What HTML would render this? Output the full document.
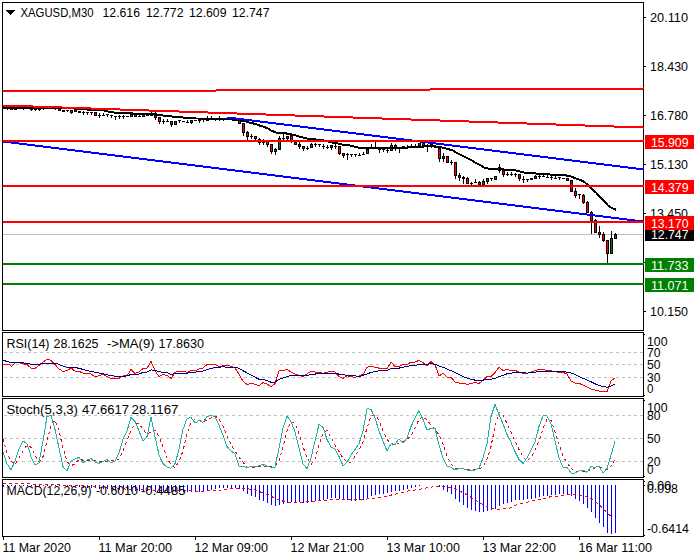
<!DOCTYPE html>
<html><head><meta charset="utf-8"><title>XAGUSD,M30</title>
<style>
html,body{margin:0;padding:0;background:#fff;}
body{width:700px;height:560px;overflow:hidden;}
svg{display:block;font-family:"Liberation Sans",sans-serif;}
rect{shape-rendering:crispEdges;}
</style></head><body>
<svg width="700" height="560" viewBox="0 0 700 560">
<defs><clipPath id="cm"><rect x="3" y="3" width="641" height="327"/></clipPath></defs>
<rect x="0" y="0" width="700" height="560" fill="#fff"/>
<rect x="2" y="2" width="642" height="1" fill="#000"/>
<rect x="2" y="330" width="642" height="1" fill="#000"/>
<rect x="2" y="2" width="1" height="329" fill="#000"/>
<rect x="643" y="2" width="1" height="329" fill="#000"/>
<rect x="2" y="332" width="642" height="1" fill="#000"/>
<rect x="2" y="396" width="642" height="1" fill="#000"/>
<rect x="2" y="332" width="1" height="65" fill="#000"/>
<rect x="643" y="332" width="1" height="65" fill="#000"/>
<rect x="2" y="398" width="642" height="1" fill="#000"/>
<rect x="2" y="477" width="642" height="1" fill="#000"/>
<rect x="2" y="398" width="1" height="80" fill="#000"/>
<rect x="643" y="398" width="1" height="80" fill="#000"/>
<rect x="2" y="479" width="642" height="1" fill="#000"/>
<rect x="2" y="536" width="642" height="1" fill="#000"/>
<rect x="2" y="479" width="1" height="58" fill="#000"/>
<rect x="643" y="479" width="1" height="58" fill="#000"/>
<g clip-path="url(#cm)">
<rect x="3" y="234" width="640" height="1" fill="#c0c0c0"/>
<rect x="3" y="108" width="1" height="1" fill="#000"/>
<rect x="2" y="108" width="3" height="1" fill="#000"/>
<rect x="7" y="108" width="1" height="2" fill="#000"/>
<rect x="6" y="108" width="3" height="1" fill="#000"/>
<rect x="11" y="108" width="1" height="2" fill="#000"/>
<rect x="10" y="108" width="3" height="2" fill="#000"/>
<rect x="15" y="108" width="1" height="2" fill="#000"/>
<rect x="14" y="108" width="3" height="2" fill="#000"/>
<rect x="19" y="108" width="1" height="1" fill="#000"/>
<rect x="18" y="108" width="3" height="1" fill="#000"/>
<rect x="23" y="108" width="1" height="2" fill="#000"/>
<rect x="22" y="108" width="3" height="1" fill="#000"/>
<rect x="27" y="108" width="1" height="1" fill="#000"/>
<rect x="26" y="108" width="3" height="1" fill="#000"/>
<rect x="31" y="108" width="1" height="3" fill="#000"/>
<rect x="30" y="108" width="3" height="2" fill="#000"/>
<rect x="35" y="108" width="1" height="3" fill="#000"/>
<rect x="34" y="108" width="3" height="2" fill="#000"/>
<rect x="39" y="108" width="1" height="3" fill="#000"/>
<rect x="38" y="108" width="3" height="2" fill="#000"/>
<rect x="43" y="108" width="1" height="2" fill="#000"/>
<rect x="42" y="108" width="3" height="1" fill="#000"/>
<rect x="47" y="108" width="1" height="1" fill="#000"/>
<rect x="46" y="108" width="3" height="1" fill="#000"/>
<rect x="51" y="108" width="1" height="1" fill="#000"/>
<rect x="50" y="108" width="3" height="1" fill="#000"/>
<rect x="55" y="108" width="1" height="2" fill="#000"/>
<rect x="54" y="108" width="3" height="1" fill="#000"/>
<rect x="59" y="108" width="1" height="3" fill="#000"/>
<rect x="58" y="108" width="3" height="3" fill="#000"/>
<rect x="59" y="109" width="1" height="1" fill="#ff0000"/>
<rect x="63" y="110" width="1" height="2" fill="#000"/>
<rect x="62" y="110" width="3" height="2" fill="#000"/>
<rect x="67" y="110" width="1" height="2" fill="#000"/>
<rect x="66" y="110" width="3" height="1" fill="#000"/>
<rect x="71" y="110" width="1" height="4" fill="#000"/>
<rect x="70" y="110" width="3" height="3" fill="#000"/>
<rect x="71" y="111" width="1" height="1" fill="#008000"/>
<rect x="75" y="109" width="1" height="3" fill="#000"/>
<rect x="74" y="109" width="3" height="3" fill="#000"/>
<rect x="75" y="110" width="1" height="1" fill="#ff0000"/>
<rect x="79" y="111" width="1" height="2" fill="#000"/>
<rect x="78" y="111" width="3" height="2" fill="#000"/>
<rect x="83" y="111" width="1" height="4" fill="#000"/>
<rect x="82" y="112" width="3" height="1" fill="#000"/>
<rect x="87" y="112" width="1" height="3" fill="#000"/>
<rect x="86" y="112" width="3" height="1" fill="#000"/>
<rect x="91" y="112" width="1" height="3" fill="#000"/>
<rect x="90" y="112" width="3" height="1" fill="#000"/>
<rect x="95" y="112" width="1" height="4" fill="#000"/>
<rect x="94" y="112" width="3" height="4" fill="#000"/>
<rect x="95" y="113" width="1" height="2" fill="#ff0000"/>
<rect x="99" y="113" width="1" height="5" fill="#000"/>
<rect x="98" y="115" width="3" height="1" fill="#000"/>
<rect x="103" y="113" width="1" height="3" fill="#000"/>
<rect x="102" y="115" width="3" height="1" fill="#000"/>
<rect x="107" y="114" width="1" height="3" fill="#000"/>
<rect x="106" y="114" width="3" height="1" fill="#000"/>
<rect x="111" y="115" width="1" height="3" fill="#000"/>
<rect x="110" y="115" width="3" height="1" fill="#000"/>
<rect x="115" y="116" width="1" height="4" fill="#000"/>
<rect x="114" y="116" width="3" height="1" fill="#000"/>
<rect x="119" y="115" width="1" height="4" fill="#000"/>
<rect x="118" y="116" width="3" height="1" fill="#000"/>
<rect x="123" y="115" width="1" height="4" fill="#000"/>
<rect x="122" y="116" width="3" height="1" fill="#000"/>
<rect x="127" y="116" width="1" height="1" fill="#000"/>
<rect x="126" y="116" width="3" height="1" fill="#000"/>
<rect x="131" y="114" width="1" height="3" fill="#000"/>
<rect x="130" y="114" width="3" height="3" fill="#000"/>
<rect x="131" y="115" width="1" height="1" fill="#008000"/>
<rect x="135" y="114" width="1" height="3" fill="#000"/>
<rect x="134" y="114" width="3" height="3" fill="#000"/>
<rect x="135" y="115" width="1" height="1" fill="#ff0000"/>
<rect x="139" y="115" width="1" height="2" fill="#000"/>
<rect x="138" y="116" width="3" height="1" fill="#000"/>
<rect x="143" y="114" width="1" height="3" fill="#000"/>
<rect x="142" y="114" width="3" height="3" fill="#000"/>
<rect x="143" y="115" width="1" height="1" fill="#008000"/>
<rect x="147" y="115" width="1" height="1" fill="#000"/>
<rect x="146" y="115" width="3" height="1" fill="#000"/>
<rect x="151" y="112" width="1" height="4" fill="#000"/>
<rect x="150" y="115" width="3" height="1" fill="#000"/>
<rect x="155" y="112" width="1" height="8" fill="#000"/>
<rect x="154" y="115" width="3" height="3" fill="#000"/>
<rect x="155" y="116" width="1" height="1" fill="#ff0000"/>
<rect x="159" y="117" width="1" height="7" fill="#000"/>
<rect x="158" y="117" width="3" height="5" fill="#000"/>
<rect x="159" y="118" width="1" height="3" fill="#ff0000"/>
<rect x="163" y="119" width="1" height="5" fill="#000"/>
<rect x="162" y="121" width="3" height="1" fill="#000"/>
<rect x="167" y="119" width="1" height="3" fill="#000"/>
<rect x="166" y="121" width="3" height="1" fill="#000"/>
<rect x="171" y="121" width="1" height="6" fill="#000"/>
<rect x="170" y="121" width="3" height="4" fill="#000"/>
<rect x="171" y="122" width="1" height="2" fill="#ff0000"/>
<rect x="175" y="121" width="1" height="4" fill="#000"/>
<rect x="174" y="121" width="3" height="4" fill="#000"/>
<rect x="175" y="122" width="1" height="2" fill="#008000"/>
<rect x="179" y="120" width="1" height="3" fill="#000"/>
<rect x="178" y="120" width="3" height="1" fill="#000"/>
<rect x="183" y="121" width="1" height="1" fill="#000"/>
<rect x="182" y="121" width="3" height="1" fill="#000"/>
<rect x="187" y="120" width="1" height="3" fill="#000"/>
<rect x="186" y="122" width="3" height="1" fill="#000"/>
<rect x="191" y="120" width="1" height="4" fill="#000"/>
<rect x="190" y="120" width="3" height="3" fill="#000"/>
<rect x="191" y="121" width="1" height="1" fill="#008000"/>
<rect x="195" y="120" width="1" height="1" fill="#000"/>
<rect x="194" y="120" width="3" height="1" fill="#000"/>
<rect x="199" y="120" width="1" height="3" fill="#000"/>
<rect x="198" y="120" width="3" height="1" fill="#000"/>
<rect x="203" y="119" width="1" height="3" fill="#000"/>
<rect x="202" y="119" width="3" height="1" fill="#000"/>
<rect x="207" y="116" width="1" height="5" fill="#000"/>
<rect x="206" y="118" width="3" height="3" fill="#000"/>
<rect x="211" y="116" width="1" height="4" fill="#000"/>
<rect x="210" y="119" width="3" height="1" fill="#000"/>
<rect x="215" y="118" width="1" height="3" fill="#000"/>
<rect x="214" y="119" width="3" height="1" fill="#000"/>
<rect x="219" y="116" width="1" height="5" fill="#000"/>
<rect x="218" y="119" width="3" height="1" fill="#000"/>
<rect x="223" y="119" width="1" height="2" fill="#000"/>
<rect x="222" y="119" width="3" height="1" fill="#000"/>
<rect x="227" y="119" width="1" height="1" fill="#000"/>
<rect x="226" y="119" width="3" height="1" fill="#000"/>
<rect x="231" y="119" width="1" height="1" fill="#000"/>
<rect x="230" y="119" width="3" height="1" fill="#000"/>
<rect x="235" y="119" width="1" height="1" fill="#000"/>
<rect x="234" y="119" width="3" height="1" fill="#000"/>
<rect x="239" y="120" width="1" height="4" fill="#000"/>
<rect x="238" y="120" width="3" height="4" fill="#000"/>
<rect x="239" y="121" width="1" height="2" fill="#ff0000"/>
<rect x="243" y="123" width="1" height="13" fill="#000"/>
<rect x="242" y="123" width="3" height="10" fill="#000"/>
<rect x="243" y="124" width="1" height="8" fill="#ff0000"/>
<rect x="247" y="131" width="1" height="10" fill="#000"/>
<rect x="246" y="132" width="3" height="5" fill="#000"/>
<rect x="247" y="133" width="1" height="3" fill="#ff0000"/>
<rect x="251" y="134" width="1" height="5" fill="#000"/>
<rect x="250" y="136" width="3" height="1" fill="#000"/>
<rect x="255" y="136" width="1" height="5" fill="#000"/>
<rect x="254" y="136" width="3" height="3" fill="#000"/>
<rect x="255" y="137" width="1" height="1" fill="#ff0000"/>
<rect x="259" y="138" width="1" height="7" fill="#000"/>
<rect x="258" y="139" width="3" height="4" fill="#000"/>
<rect x="259" y="140" width="1" height="2" fill="#ff0000"/>
<rect x="263" y="139" width="1" height="6" fill="#000"/>
<rect x="262" y="140" width="3" height="3" fill="#000"/>
<rect x="263" y="141" width="1" height="1" fill="#ff0000"/>
<rect x="267" y="141" width="1" height="6" fill="#000"/>
<rect x="266" y="141" width="3" height="4" fill="#000"/>
<rect x="267" y="142" width="1" height="2" fill="#ff0000"/>
<rect x="271" y="144" width="1" height="10" fill="#000"/>
<rect x="270" y="144" width="3" height="8" fill="#000"/>
<rect x="271" y="145" width="1" height="6" fill="#ff0000"/>
<rect x="275" y="148" width="1" height="7" fill="#000"/>
<rect x="274" y="149" width="3" height="3" fill="#000"/>
<rect x="275" y="150" width="1" height="1" fill="#008000"/>
<rect x="279" y="136" width="1" height="14" fill="#000"/>
<rect x="278" y="138" width="3" height="12" fill="#000"/>
<rect x="279" y="139" width="1" height="10" fill="#008000"/>
<rect x="283" y="134" width="1" height="7" fill="#000"/>
<rect x="282" y="138" width="3" height="1" fill="#000"/>
<rect x="287" y="136" width="1" height="5" fill="#000"/>
<rect x="286" y="136" width="3" height="3" fill="#000"/>
<rect x="287" y="137" width="1" height="1" fill="#008000"/>
<rect x="291" y="134" width="1" height="9" fill="#000"/>
<rect x="290" y="135" width="3" height="6" fill="#000"/>
<rect x="291" y="136" width="1" height="4" fill="#ff0000"/>
<rect x="295" y="142" width="1" height="3" fill="#000"/>
<rect x="294" y="142" width="3" height="3" fill="#000"/>
<rect x="295" y="143" width="1" height="1" fill="#ff0000"/>
<rect x="299" y="142" width="1" height="7" fill="#000"/>
<rect x="298" y="144" width="3" height="3" fill="#000"/>
<rect x="299" y="145" width="1" height="1" fill="#ff0000"/>
<rect x="303" y="146" width="1" height="5" fill="#000"/>
<rect x="302" y="146" width="3" height="3" fill="#000"/>
<rect x="303" y="147" width="1" height="1" fill="#ff0000"/>
<rect x="307" y="146" width="1" height="4" fill="#000"/>
<rect x="306" y="148" width="3" height="1" fill="#000"/>
<rect x="311" y="143" width="1" height="5" fill="#000"/>
<rect x="310" y="144" width="3" height="4" fill="#000"/>
<rect x="311" y="145" width="1" height="2" fill="#008000"/>
<rect x="315" y="143" width="1" height="4" fill="#000"/>
<rect x="314" y="144" width="3" height="1" fill="#000"/>
<rect x="319" y="144" width="1" height="3" fill="#000"/>
<rect x="318" y="144" width="3" height="1" fill="#000"/>
<rect x="323" y="144" width="1" height="5" fill="#000"/>
<rect x="322" y="146" width="3" height="1" fill="#000"/>
<rect x="327" y="145" width="1" height="4" fill="#000"/>
<rect x="326" y="147" width="3" height="1" fill="#000"/>
<rect x="331" y="145" width="1" height="5" fill="#000"/>
<rect x="330" y="145" width="3" height="3" fill="#000"/>
<rect x="331" y="146" width="1" height="1" fill="#008000"/>
<rect x="335" y="143" width="1" height="6" fill="#000"/>
<rect x="334" y="146" width="3" height="1" fill="#000"/>
<rect x="339" y="146" width="1" height="9" fill="#000"/>
<rect x="338" y="146" width="3" height="8" fill="#000"/>
<rect x="339" y="147" width="1" height="6" fill="#ff0000"/>
<rect x="343" y="153" width="1" height="5" fill="#000"/>
<rect x="342" y="153" width="3" height="3" fill="#000"/>
<rect x="343" y="154" width="1" height="1" fill="#ff0000"/>
<rect x="347" y="153" width="1" height="7" fill="#000"/>
<rect x="346" y="154" width="3" height="1" fill="#000"/>
<rect x="351" y="154" width="1" height="3" fill="#000"/>
<rect x="350" y="154" width="3" height="1" fill="#000"/>
<rect x="355" y="154" width="1" height="3" fill="#000"/>
<rect x="354" y="154" width="3" height="1" fill="#000"/>
<rect x="359" y="153" width="1" height="3" fill="#000"/>
<rect x="358" y="155" width="3" height="1" fill="#000"/>
<rect x="363" y="152" width="1" height="3" fill="#000"/>
<rect x="362" y="154" width="3" height="1" fill="#000"/>
<rect x="367" y="149" width="1" height="5" fill="#000"/>
<rect x="366" y="149" width="3" height="5" fill="#000"/>
<rect x="367" y="150" width="1" height="3" fill="#008000"/>
<rect x="371" y="144" width="1" height="5" fill="#000"/>
<rect x="370" y="148" width="3" height="1" fill="#000"/>
<rect x="375" y="142" width="1" height="7" fill="#000"/>
<rect x="374" y="148" width="3" height="1" fill="#000"/>
<rect x="379" y="149" width="1" height="4" fill="#000"/>
<rect x="378" y="149" width="3" height="1" fill="#000"/>
<rect x="383" y="149" width="1" height="3" fill="#000"/>
<rect x="382" y="149" width="3" height="1" fill="#000"/>
<rect x="387" y="149" width="1" height="4" fill="#000"/>
<rect x="386" y="150" width="3" height="1" fill="#000"/>
<rect x="391" y="143" width="1" height="8" fill="#000"/>
<rect x="390" y="145" width="3" height="6" fill="#000"/>
<rect x="391" y="146" width="1" height="4" fill="#008000"/>
<rect x="395" y="144" width="1" height="7" fill="#000"/>
<rect x="394" y="145" width="3" height="3" fill="#000"/>
<rect x="395" y="146" width="1" height="1" fill="#ff0000"/>
<rect x="399" y="148" width="1" height="5" fill="#000"/>
<rect x="398" y="148" width="3" height="1" fill="#000"/>
<rect x="403" y="146" width="1" height="1" fill="#000"/>
<rect x="402" y="146" width="3" height="1" fill="#000"/>
<rect x="407" y="145" width="1" height="3" fill="#000"/>
<rect x="406" y="147" width="3" height="1" fill="#000"/>
<rect x="411" y="144" width="1" height="3" fill="#000"/>
<rect x="410" y="146" width="3" height="1" fill="#000"/>
<rect x="415" y="144" width="1" height="3" fill="#000"/>
<rect x="414" y="146" width="3" height="1" fill="#000"/>
<rect x="419" y="143" width="1" height="3" fill="#000"/>
<rect x="418" y="143" width="3" height="3" fill="#000"/>
<rect x="419" y="144" width="1" height="1" fill="#008000"/>
<rect x="423" y="143" width="1" height="3" fill="#000"/>
<rect x="422" y="143" width="3" height="3" fill="#000"/>
<rect x="423" y="144" width="1" height="1" fill="#ff0000"/>
<rect x="427" y="144" width="1" height="8" fill="#000"/>
<rect x="426" y="145" width="3" height="1" fill="#000"/>
<rect x="431" y="144" width="1" height="4" fill="#000"/>
<rect x="430" y="144" width="3" height="2" fill="#000"/>
<rect x="435" y="145" width="1" height="3" fill="#000"/>
<rect x="434" y="146" width="3" height="1" fill="#000"/>
<rect x="439" y="147" width="1" height="15" fill="#000"/>
<rect x="438" y="148" width="3" height="11" fill="#000"/>
<rect x="439" y="149" width="1" height="9" fill="#ff0000"/>
<rect x="443" y="153" width="1" height="9" fill="#000"/>
<rect x="442" y="156" width="3" height="3" fill="#000"/>
<rect x="443" y="157" width="1" height="1" fill="#008000"/>
<rect x="447" y="156" width="1" height="7" fill="#000"/>
<rect x="446" y="156" width="3" height="7" fill="#000"/>
<rect x="447" y="157" width="1" height="5" fill="#ff0000"/>
<rect x="451" y="160" width="1" height="5" fill="#000"/>
<rect x="450" y="162" width="3" height="1" fill="#000"/>
<rect x="455" y="162" width="1" height="17" fill="#000"/>
<rect x="454" y="162" width="3" height="14" fill="#000"/>
<rect x="455" y="163" width="1" height="12" fill="#ff0000"/>
<rect x="459" y="173" width="1" height="8" fill="#000"/>
<rect x="458" y="175" width="3" height="3" fill="#000"/>
<rect x="459" y="176" width="1" height="1" fill="#ff0000"/>
<rect x="463" y="176" width="1" height="8" fill="#000"/>
<rect x="462" y="177" width="3" height="2" fill="#000"/>
<rect x="467" y="177" width="1" height="7" fill="#000"/>
<rect x="466" y="178" width="3" height="6" fill="#000"/>
<rect x="467" y="179" width="1" height="4" fill="#ff0000"/>
<rect x="471" y="182" width="1" height="3" fill="#000"/>
<rect x="470" y="183" width="3" height="1" fill="#000"/>
<rect x="475" y="179" width="1" height="4" fill="#000"/>
<rect x="474" y="182" width="3" height="1" fill="#000"/>
<rect x="479" y="181" width="1" height="4" fill="#000"/>
<rect x="478" y="182" width="3" height="3" fill="#000"/>
<rect x="479" y="183" width="1" height="1" fill="#ff0000"/>
<rect x="483" y="179" width="1" height="6" fill="#000"/>
<rect x="482" y="181" width="3" height="4" fill="#000"/>
<rect x="483" y="182" width="1" height="2" fill="#008000"/>
<rect x="487" y="178" width="1" height="6" fill="#000"/>
<rect x="486" y="178" width="3" height="4" fill="#000"/>
<rect x="487" y="179" width="1" height="2" fill="#008000"/>
<rect x="491" y="178" width="1" height="3" fill="#000"/>
<rect x="490" y="178" width="3" height="1" fill="#000"/>
<rect x="495" y="176" width="1" height="4" fill="#000"/>
<rect x="494" y="176" width="3" height="4" fill="#000"/>
<rect x="495" y="177" width="1" height="2" fill="#008000"/>
<rect x="499" y="164" width="1" height="9" fill="#000"/>
<rect x="498" y="167" width="3" height="4" fill="#000"/>
<rect x="503" y="168" width="1" height="9" fill="#000"/>
<rect x="502" y="170" width="3" height="5" fill="#000"/>
<rect x="503" y="171" width="1" height="3" fill="#ff0000"/>
<rect x="507" y="172" width="1" height="4" fill="#000"/>
<rect x="506" y="174" width="3" height="1" fill="#000"/>
<rect x="511" y="172" width="1" height="4" fill="#000"/>
<rect x="510" y="174" width="3" height="1" fill="#000"/>
<rect x="515" y="173" width="1" height="4" fill="#000"/>
<rect x="514" y="174" width="3" height="1" fill="#000"/>
<rect x="519" y="174" width="1" height="7" fill="#000"/>
<rect x="518" y="174" width="3" height="5" fill="#000"/>
<rect x="519" y="175" width="1" height="3" fill="#ff0000"/>
<rect x="523" y="176" width="1" height="7" fill="#000"/>
<rect x="522" y="179" width="3" height="1" fill="#000"/>
<rect x="527" y="179" width="1" height="3" fill="#000"/>
<rect x="526" y="179" width="3" height="1" fill="#000"/>
<rect x="531" y="178" width="1" height="2" fill="#000"/>
<rect x="530" y="178" width="3" height="2" fill="#000"/>
<rect x="535" y="175" width="1" height="4" fill="#000"/>
<rect x="534" y="176" width="3" height="3" fill="#000"/>
<rect x="535" y="177" width="1" height="1" fill="#008000"/>
<rect x="539" y="175" width="1" height="4" fill="#000"/>
<rect x="538" y="176" width="3" height="1" fill="#000"/>
<rect x="543" y="175" width="1" height="2" fill="#000"/>
<rect x="542" y="176" width="3" height="1" fill="#000"/>
<rect x="547" y="175" width="1" height="3" fill="#000"/>
<rect x="546" y="177" width="3" height="1" fill="#000"/>
<rect x="551" y="176" width="1" height="4" fill="#000"/>
<rect x="550" y="177" width="3" height="1" fill="#000"/>
<rect x="555" y="176" width="1" height="3" fill="#000"/>
<rect x="554" y="178" width="3" height="1" fill="#000"/>
<rect x="559" y="177" width="1" height="3" fill="#000"/>
<rect x="558" y="177" width="3" height="1" fill="#000"/>
<rect x="563" y="178" width="1" height="1" fill="#000"/>
<rect x="562" y="178" width="3" height="1" fill="#000"/>
<rect x="567" y="178" width="1" height="3" fill="#000"/>
<rect x="566" y="178" width="3" height="3" fill="#000"/>
<rect x="567" y="179" width="1" height="1" fill="#ff0000"/>
<rect x="571" y="180" width="1" height="12" fill="#000"/>
<rect x="570" y="180" width="3" height="12" fill="#000"/>
<rect x="571" y="181" width="1" height="10" fill="#ff0000"/>
<rect x="575" y="188" width="1" height="10" fill="#000"/>
<rect x="574" y="191" width="3" height="5" fill="#000"/>
<rect x="575" y="192" width="1" height="3" fill="#ff0000"/>
<rect x="579" y="194" width="1" height="5" fill="#000"/>
<rect x="578" y="194" width="3" height="1" fill="#000"/>
<rect x="583" y="194" width="1" height="10" fill="#000"/>
<rect x="582" y="195" width="3" height="8" fill="#000"/>
<rect x="583" y="196" width="1" height="6" fill="#ff0000"/>
<rect x="587" y="201" width="1" height="12" fill="#000"/>
<rect x="586" y="202" width="3" height="11" fill="#000"/>
<rect x="587" y="203" width="1" height="9" fill="#ff0000"/>
<rect x="591" y="211" width="1" height="23" fill="#000"/>
<rect x="590" y="212" width="3" height="9" fill="#000"/>
<rect x="591" y="213" width="1" height="7" fill="#ff0000"/>
<rect x="595" y="219" width="1" height="14" fill="#000"/>
<rect x="594" y="220" width="3" height="13" fill="#000"/>
<rect x="595" y="221" width="1" height="11" fill="#ff0000"/>
<rect x="599" y="226" width="1" height="12" fill="#000"/>
<rect x="598" y="232" width="3" height="3" fill="#000"/>
<rect x="599" y="233" width="1" height="1" fill="#ff0000"/>
<rect x="603" y="232" width="1" height="10" fill="#000"/>
<rect x="602" y="234" width="3" height="7" fill="#000"/>
<rect x="603" y="235" width="1" height="5" fill="#ff0000"/>
<rect x="607" y="240" width="1" height="23" fill="#000"/>
<rect x="606" y="240" width="3" height="14" fill="#000"/>
<rect x="607" y="241" width="1" height="12" fill="#ff0000"/>
<rect x="611" y="231" width="1" height="23" fill="#000"/>
<rect x="610" y="238" width="3" height="16" fill="#000"/>
<rect x="611" y="239" width="1" height="14" fill="#008000"/>
<rect x="615" y="233" width="1" height="6" fill="#000"/>
<rect x="614" y="234" width="3" height="5" fill="#000"/>
<rect x="615" y="235" width="1" height="3" fill="#008000"/>
<polyline points="3.0,108.0 61.0,108.0 76.0,108.5 84.0,109.0 91.0,110.0 104.0,110.5 108.0,111.5 112.0,112.0 116.0,113.0 131.0,113.0 134.0,113.8 156.0,113.8 158.0,115.0 163.0,115.5 166.0,116.0 172.0,116.5 176.0,117.0 183.0,117.5 186.0,118.0 196.0,118.5 227.0,118.7 236.0,120.0 244.0,121.0 250.0,122.8 256.0,124.0 260.0,125.8 264.0,126.8 268.0,128.5 272.0,131.0 276.0,132.5 280.0,133.0 284.0,133.0 288.0,133.8 292.0,134.5 296.0,135.5 300.0,136.8 304.0,137.8 308.0,138.8 312.0,139.0 316.0,139.5 320.0,140.0 324.0,140.5 328.0,141.5 332.0,142.5 336.0,143.0 340.0,144.0 344.0,145.0 348.0,145.0 352.0,146.0 356.0,147.0 360.0,148.0 404.0,148.0 408.0,147.5 416.0,147.0 424.0,146.5 432.0,146.0 436.0,146.8 440.0,147.0 444.0,148.0 448.0,149.2 452.0,150.0 456.0,152.5 460.0,154.5 464.0,156.5 468.0,158.5 472.0,160.5 476.0,163.0 480.0,165.0 484.0,167.5 488.0,168.5 492.0,169.0 496.0,169.0 500.0,169.2 504.0,169.5 508.0,169.8 512.0,170.0 516.0,170.5 520.0,171.5 524.0,172.5 528.0,172.8 532.0,172.8 536.0,173.5 540.0,174.0 544.0,174.0 548.0,174.2 552.0,174.8 556.0,175.0 560.0,175.0 564.0,175.0 568.0,175.8 572.0,176.8 576.0,178.5 580.0,179.8 584.0,181.8 588.0,185.0 592.0,189.0 596.0,192.5 600.0,197.0 604.0,201.0 608.0,205.5 612.0,208.0 616.0,209.8" fill="none" stroke="#000" stroke-width="2" shape-rendering="crispEdges" stroke-linejoin="round"/>
<rect x="3" y="90" width="213" height="2" fill="#ff0000"/>
<rect x="216" y="89" width="214" height="2" fill="#ff0000"/>
<rect x="430" y="88" width="213" height="2" fill="#ff0000"/>
<rect x="643" y="87" width="1" height="2" fill="#ff0000"/>
<rect x="4" y="105" width="29" height="2" fill="#ff0000"/>
<rect x="33" y="106" width="29" height="2" fill="#ff0000"/>
<rect x="62" y="107" width="29" height="2" fill="#ff0000"/>
<rect x="91" y="108" width="29" height="2" fill="#ff0000"/>
<rect x="120" y="109" width="29" height="2" fill="#ff0000"/>
<rect x="149" y="110" width="30" height="2" fill="#ff0000"/>
<rect x="179" y="111" width="29" height="2" fill="#ff0000"/>
<rect x="208" y="112" width="29" height="2" fill="#ff0000"/>
<rect x="237" y="113" width="29" height="2" fill="#ff0000"/>
<rect x="266" y="114" width="29" height="2" fill="#ff0000"/>
<rect x="295" y="115" width="29" height="2" fill="#ff0000"/>
<rect x="324" y="116" width="29" height="2" fill="#ff0000"/>
<rect x="353" y="117" width="29" height="2" fill="#ff0000"/>
<rect x="382" y="118" width="29" height="2" fill="#ff0000"/>
<rect x="411" y="119" width="29" height="2" fill="#ff0000"/>
<rect x="440" y="120" width="29" height="2" fill="#ff0000"/>
<rect x="469" y="121" width="29" height="2" fill="#ff0000"/>
<rect x="498" y="122" width="29" height="2" fill="#ff0000"/>
<rect x="527" y="123" width="29" height="2" fill="#ff0000"/>
<rect x="556" y="124" width="29" height="2" fill="#ff0000"/>
<rect x="585" y="125" width="29" height="2" fill="#ff0000"/>
<rect x="614" y="126" width="29" height="2" fill="#ff0000"/>
<rect x="643" y="127" width="1" height="2" fill="#ff0000"/>
<rect x="3" y="105" width="1" height="2" fill="#ff0000"/>
<rect x="228" y="117" width="8" height="2" fill="#0000ff"/>
<rect x="236" y="118" width="8" height="2" fill="#0000ff"/>
<rect x="244" y="119" width="8" height="2" fill="#0000ff"/>
<rect x="252" y="120" width="8" height="2" fill="#0000ff"/>
<rect x="260" y="121" width="8" height="2" fill="#0000ff"/>
<rect x="268" y="122" width="8" height="2" fill="#0000ff"/>
<rect x="276" y="123" width="8" height="2" fill="#0000ff"/>
<rect x="284" y="124" width="8" height="2" fill="#0000ff"/>
<rect x="292" y="125" width="8" height="2" fill="#0000ff"/>
<rect x="300" y="126" width="8" height="2" fill="#0000ff"/>
<rect x="308" y="127" width="8" height="2" fill="#0000ff"/>
<rect x="316" y="128" width="8" height="2" fill="#0000ff"/>
<rect x="324" y="129" width="8" height="2" fill="#0000ff"/>
<rect x="332" y="130" width="8" height="2" fill="#0000ff"/>
<rect x="340" y="131" width="8" height="2" fill="#0000ff"/>
<rect x="348" y="132" width="8" height="2" fill="#0000ff"/>
<rect x="356" y="133" width="8" height="2" fill="#0000ff"/>
<rect x="364" y="134" width="8" height="2" fill="#0000ff"/>
<rect x="372" y="135" width="8" height="2" fill="#0000ff"/>
<rect x="380" y="136" width="8" height="2" fill="#0000ff"/>
<rect x="388" y="137" width="8" height="2" fill="#0000ff"/>
<rect x="396" y="138" width="8" height="2" fill="#0000ff"/>
<rect x="404" y="139" width="8" height="2" fill="#0000ff"/>
<rect x="412" y="140" width="8" height="2" fill="#0000ff"/>
<rect x="420" y="141" width="8" height="2" fill="#0000ff"/>
<rect x="428" y="142" width="8" height="2" fill="#0000ff"/>
<rect x="436" y="143" width="8" height="2" fill="#0000ff"/>
<rect x="444" y="144" width="8" height="2" fill="#0000ff"/>
<rect x="452" y="145" width="8" height="2" fill="#0000ff"/>
<rect x="460" y="146" width="8" height="2" fill="#0000ff"/>
<rect x="468" y="147" width="8" height="2" fill="#0000ff"/>
<rect x="476" y="148" width="8" height="2" fill="#0000ff"/>
<rect x="484" y="149" width="8" height="2" fill="#0000ff"/>
<rect x="492" y="150" width="8" height="2" fill="#0000ff"/>
<rect x="500" y="151" width="8" height="2" fill="#0000ff"/>
<rect x="508" y="152" width="8" height="2" fill="#0000ff"/>
<rect x="516" y="153" width="8" height="2" fill="#0000ff"/>
<rect x="524" y="154" width="8" height="2" fill="#0000ff"/>
<rect x="532" y="155" width="8" height="2" fill="#0000ff"/>
<rect x="540" y="156" width="8" height="2" fill="#0000ff"/>
<rect x="548" y="157" width="8" height="2" fill="#0000ff"/>
<rect x="556" y="158" width="8" height="2" fill="#0000ff"/>
<rect x="564" y="159" width="8" height="2" fill="#0000ff"/>
<rect x="572" y="160" width="8" height="2" fill="#0000ff"/>
<rect x="580" y="161" width="8" height="2" fill="#0000ff"/>
<rect x="588" y="162" width="8" height="2" fill="#0000ff"/>
<rect x="596" y="163" width="8" height="2" fill="#0000ff"/>
<rect x="604" y="164" width="8" height="2" fill="#0000ff"/>
<rect x="612" y="165" width="8" height="2" fill="#0000ff"/>
<rect x="620" y="166" width="8" height="2" fill="#0000ff"/>
<rect x="628" y="167" width="8" height="2" fill="#0000ff"/>
<rect x="636" y="168" width="8" height="2" fill="#0000ff"/>
<rect x="227" y="117" width="1" height="2" fill="#0000ff"/>
<rect x="3" y="141" width="8" height="2" fill="#0000ff"/>
<rect x="11" y="142" width="8" height="2" fill="#0000ff"/>
<rect x="19" y="143" width="8" height="2" fill="#0000ff"/>
<rect x="27" y="144" width="8" height="2" fill="#0000ff"/>
<rect x="35" y="145" width="8" height="2" fill="#0000ff"/>
<rect x="43" y="146" width="8" height="2" fill="#0000ff"/>
<rect x="51" y="147" width="8" height="2" fill="#0000ff"/>
<rect x="59" y="148" width="8" height="2" fill="#0000ff"/>
<rect x="67" y="149" width="8" height="2" fill="#0000ff"/>
<rect x="75" y="150" width="8" height="2" fill="#0000ff"/>
<rect x="83" y="151" width="8" height="2" fill="#0000ff"/>
<rect x="91" y="152" width="8" height="2" fill="#0000ff"/>
<rect x="99" y="153" width="8" height="2" fill="#0000ff"/>
<rect x="107" y="154" width="8" height="2" fill="#0000ff"/>
<rect x="115" y="155" width="8" height="2" fill="#0000ff"/>
<rect x="123" y="156" width="8" height="2" fill="#0000ff"/>
<rect x="131" y="157" width="8" height="2" fill="#0000ff"/>
<rect x="139" y="158" width="8" height="2" fill="#0000ff"/>
<rect x="147" y="159" width="8" height="2" fill="#0000ff"/>
<rect x="155" y="160" width="8" height="2" fill="#0000ff"/>
<rect x="163" y="161" width="8" height="2" fill="#0000ff"/>
<rect x="171" y="162" width="8" height="2" fill="#0000ff"/>
<rect x="179" y="163" width="8" height="2" fill="#0000ff"/>
<rect x="187" y="164" width="8" height="2" fill="#0000ff"/>
<rect x="195" y="165" width="8" height="2" fill="#0000ff"/>
<rect x="203" y="166" width="8" height="2" fill="#0000ff"/>
<rect x="211" y="167" width="8" height="2" fill="#0000ff"/>
<rect x="219" y="168" width="8" height="2" fill="#0000ff"/>
<rect x="227" y="169" width="8" height="2" fill="#0000ff"/>
<rect x="235" y="170" width="8" height="2" fill="#0000ff"/>
<rect x="243" y="171" width="8" height="2" fill="#0000ff"/>
<rect x="251" y="172" width="8" height="2" fill="#0000ff"/>
<rect x="259" y="173" width="8" height="2" fill="#0000ff"/>
<rect x="267" y="174" width="8" height="2" fill="#0000ff"/>
<rect x="275" y="175" width="8" height="2" fill="#0000ff"/>
<rect x="283" y="176" width="8" height="2" fill="#0000ff"/>
<rect x="291" y="177" width="8" height="2" fill="#0000ff"/>
<rect x="299" y="178" width="8" height="2" fill="#0000ff"/>
<rect x="307" y="179" width="8" height="2" fill="#0000ff"/>
<rect x="315" y="180" width="8" height="2" fill="#0000ff"/>
<rect x="323" y="181" width="8" height="2" fill="#0000ff"/>
<rect x="331" y="182" width="8" height="2" fill="#0000ff"/>
<rect x="339" y="183" width="8" height="2" fill="#0000ff"/>
<rect x="347" y="184" width="8" height="2" fill="#0000ff"/>
<rect x="355" y="185" width="8" height="2" fill="#0000ff"/>
<rect x="363" y="186" width="8" height="2" fill="#0000ff"/>
<rect x="371" y="187" width="8" height="2" fill="#0000ff"/>
<rect x="379" y="188" width="8" height="2" fill="#0000ff"/>
<rect x="387" y="189" width="8" height="2" fill="#0000ff"/>
<rect x="395" y="190" width="8" height="2" fill="#0000ff"/>
<rect x="403" y="191" width="8" height="2" fill="#0000ff"/>
<rect x="411" y="192" width="8" height="2" fill="#0000ff"/>
<rect x="419" y="193" width="8" height="2" fill="#0000ff"/>
<rect x="427" y="194" width="8" height="2" fill="#0000ff"/>
<rect x="435" y="195" width="8" height="2" fill="#0000ff"/>
<rect x="443" y="196" width="8" height="2" fill="#0000ff"/>
<rect x="451" y="197" width="8" height="2" fill="#0000ff"/>
<rect x="459" y="198" width="8" height="2" fill="#0000ff"/>
<rect x="467" y="199" width="8" height="2" fill="#0000ff"/>
<rect x="475" y="200" width="8" height="2" fill="#0000ff"/>
<rect x="483" y="201" width="8" height="2" fill="#0000ff"/>
<rect x="491" y="202" width="8" height="2" fill="#0000ff"/>
<rect x="499" y="203" width="8" height="2" fill="#0000ff"/>
<rect x="507" y="204" width="8" height="2" fill="#0000ff"/>
<rect x="515" y="205" width="8" height="2" fill="#0000ff"/>
<rect x="523" y="206" width="8" height="2" fill="#0000ff"/>
<rect x="531" y="207" width="8" height="2" fill="#0000ff"/>
<rect x="539" y="208" width="8" height="2" fill="#0000ff"/>
<rect x="547" y="209" width="8" height="2" fill="#0000ff"/>
<rect x="555" y="210" width="8" height="2" fill="#0000ff"/>
<rect x="563" y="211" width="8" height="2" fill="#0000ff"/>
<rect x="571" y="212" width="8" height="2" fill="#0000ff"/>
<rect x="579" y="213" width="8" height="2" fill="#0000ff"/>
<rect x="587" y="214" width="8" height="2" fill="#0000ff"/>
<rect x="595" y="215" width="8" height="2" fill="#0000ff"/>
<rect x="603" y="216" width="8" height="2" fill="#0000ff"/>
<rect x="611" y="217" width="8" height="2" fill="#0000ff"/>
<rect x="619" y="218" width="8" height="2" fill="#0000ff"/>
<rect x="627" y="219" width="8" height="2" fill="#0000ff"/>
<rect x="635" y="220" width="8" height="2" fill="#0000ff"/>
<rect x="643" y="221" width="1" height="2" fill="#0000ff"/>
<rect x="3" y="140" width="641" height="2" fill="#ff0000"/>
<rect x="3" y="185" width="641" height="2" fill="#ff0000"/>
<rect x="3" y="221" width="641" height="2" fill="#ff0000"/>
<rect x="3" y="263" width="641" height="2" fill="#008000"/>
<rect x="3" y="283" width="641" height="2" fill="#008000"/>
</g>
<line x1="4" y1="352.5" x2="643" y2="352.5" stroke="#c0c0c0" stroke-width="1" stroke-dasharray="3,3" shape-rendering="crispEdges"/>
<line x1="4" y1="364.5" x2="643" y2="364.5" stroke="#c0c0c0" stroke-width="1" stroke-dasharray="3,3" shape-rendering="crispEdges"/>
<line x1="4" y1="377.5" x2="643" y2="377.5" stroke="#c0c0c0" stroke-width="1" stroke-dasharray="3,3" shape-rendering="crispEdges"/>
<polyline points="3.0,364.2 9.0,364.2 11.5,366.3 15.0,362.9 19.0,362.9 23.0,363.7 27.0,364.6 31.0,368.0 35.0,368.3 39.0,365.4 43.0,362.0 47.0,359.1 51.0,360.3 55.0,364.6 59.0,368.9 63.0,371.4 67.0,370.6 71.0,368.0 75.0,371.0 79.0,371.4 83.0,373.1 87.0,373.1 91.0,374.0 95.0,376.9 99.0,375.7 103.0,374.0 107.0,376.6 111.0,378.3 115.0,378.3 119.0,378.4 123.0,375.9 127.0,375.9 131.0,369.5 135.0,373.3 139.0,372.1 143.0,368.5 147.0,368.1 151.0,361.3 155.0,370.7 159.0,376.7 163.0,374.5 167.0,375.5 171.0,378.4 175.0,372.4 179.0,371.2 183.0,371.2 187.0,372.4 191.0,370.4 195.0,371.0 199.0,369.0 203.0,368.1 207.0,364.4 211.0,364.4 215.0,364.7 219.0,366.4 223.0,365.9 227.0,365.2 231.0,366.4 235.0,368.1 239.0,374.1 243.0,381.3 247.0,384.4 251.0,383.6 255.0,384.1 259.0,385.8 263.0,382.7 267.0,384.1 271.0,386.7 275.0,383.6 279.0,370.7 283.0,370.7 287.0,369.3 291.0,372.1 295.0,374.1 299.0,375.5 303.0,376.7 307.0,373.8 311.0,371.2 315.0,372.1 319.0,372.4 323.0,373.3 327.0,372.4 331.0,371.2 335.0,372.1 339.0,376.7 343.0,378.4 347.0,375.9 351.0,376.5 355.0,377.6 359.0,375.9 363.0,374.5 367.0,367.3 371.0,366.1 375.0,367.3 379.0,368.1 383.0,368.1 387.0,369.0 391.0,362.1 395.0,366.4 399.0,366.4 403.0,364.7 407.0,364.4 411.0,362.1 415.0,362.1 419.0,360.4 423.0,362.7 427.0,365.6 431.0,361.6 435.0,364.7 439.0,375.9 443.0,373.3 447.0,377.2 451.0,377.2 455.0,381.9 459.0,383.1 463.0,383.1 467.0,384.4 471.0,383.6 475.0,382.4 479.0,383.6 483.0,380.1 487.0,376.7 491.0,376.7 495.0,372.4 499.0,367.3 503.0,370.4 507.0,369.5 511.0,370.4 515.0,370.4 519.0,372.1 523.0,373.3 527.0,373.3 531.0,372.1 535.0,370.7 539.0,369.5 543.0,369.5 547.0,370.4 551.0,370.7 555.0,371.6 559.0,372.4 563.0,372.4 567.0,374.1 571.0,381.0 575.0,383.1 579.0,383.4 583.0,385.0 587.0,386.9 591.0,388.9 595.0,389.9 599.0,391.1 603.0,391.1 607.0,392.0 611.0,380.9 615.0,377.9" fill="none" stroke="#ff0000" stroke-width="1" shape-rendering="crispEdges"/>
<polyline points="3.0,360.3 9.0,362.0 15.0,362.9 23.0,362.9 27.0,363.7 35.0,364.6 43.0,363.7 51.0,363.2 57.0,363.7 63.0,366.0 67.0,367.5 75.0,367.5 79.0,368.3 87.0,370.6 95.0,372.3 103.0,373.7 111.0,375.7 119.0,376.5 123.0,376.5 127.0,375.9 131.0,374.5 139.0,374.1 143.0,372.4 147.0,372.1 151.0,369.9 155.0,370.4 159.0,371.6 163.0,372.4 167.0,372.4 171.0,374.5 175.0,373.3 183.0,373.3 187.0,373.3 191.0,372.1 195.0,372.1 199.0,371.6 203.0,371.0 207.0,369.5 211.0,368.5 215.0,367.3 223.0,366.9 231.0,367.3 237.0,367.6 243.0,370.7 251.0,375.0 259.0,379.3 263.0,379.3 267.0,380.5 271.0,382.2 275.0,382.2 279.0,379.3 283.0,377.9 287.0,376.7 291.0,375.5 299.0,375.5 303.0,375.9 307.0,375.5 311.0,374.5 315.0,374.1 319.0,373.3 327.0,373.3 335.0,373.3 339.0,374.1 343.0,374.5 347.0,375.5 351.0,375.8 355.0,375.9 359.0,376.7 363.0,375.5 367.0,374.1 371.0,372.4 375.0,371.6 379.0,370.7 387.0,370.4 391.0,368.7 395.0,368.5 399.0,368.1 403.0,367.3 407.0,366.4 411.0,365.6 415.0,365.2 419.0,364.7 427.0,364.4 431.0,363.5 435.0,364.4 439.0,365.9 443.0,367.3 447.0,369.0 451.0,370.7 455.0,372.4 459.0,374.5 463.0,376.7 467.0,377.9 471.0,379.3 475.0,380.1 479.0,380.5 483.0,380.1 487.0,379.3 491.0,379.3 495.0,378.4 499.0,376.7 503.0,375.5 507.0,373.8 511.0,373.3 515.0,372.4 519.0,372.1 523.0,372.4 527.0,373.3 531.0,372.4 535.0,372.1 539.0,371.6 547.0,371.2 555.0,371.6 563.0,371.6 567.0,372.1 571.0,372.9 575.0,374.5 579.0,376.4 583.0,378.3 587.0,380.0 591.0,381.7 595.0,383.8 599.0,385.5 603.0,386.5 607.0,387.2 611.0,386.0 615.0,383.9" fill="none" stroke="#000080" stroke-width="1" shape-rendering="crispEdges"/>
<line x1="4" y1="415.5" x2="643" y2="415.5" stroke="#c0c0c0" stroke-width="1" stroke-dasharray="3,3" shape-rendering="crispEdges"/>
<line x1="4" y1="438.5" x2="643" y2="438.5" stroke="#c0c0c0" stroke-width="1" stroke-dasharray="3,3" shape-rendering="crispEdges"/>
<line x1="4" y1="461.5" x2="643" y2="461.5" stroke="#c0c0c0" stroke-width="1" stroke-dasharray="3,3" shape-rendering="crispEdges"/>
<polyline points="3.0,438.7 7.0,453.7 11.0,460.9 15.0,464.4 19.0,458.0 23.0,450.9 27.0,445.1 31.0,447.3 35.0,455.1 39.0,461.6 43.0,456.6 47.0,440.9 51.0,425.1 55.0,420.1 59.0,430.9 63.0,448.0 67.0,461.6 71.0,465.9 75.0,463.7 79.0,459.4 83.0,460.1 87.0,460.6 91.0,460.6 95.0,460.6 99.0,461.2 103.0,461.6 107.0,461.6 111.0,460.9 115.0,460.9 119.0,459.4 123.0,450.9 127.0,440.9 131.0,430.9 135.0,423.7 139.0,423.7 143.0,429.4 147.0,434.4 151.0,431.6 155.0,430.1 159.0,436.6 163.0,446.6 167.0,458.0 171.0,465.1 175.0,467.7 179.0,461.6 183.0,450.9 187.0,433.7 191.0,422.3 195.0,419.4 199.0,420.1 203.0,421.6 207.0,420.1 211.0,418.0 215.0,415.9 219.0,419.1 223.0,425.9 227.0,435.9 231.0,444.4 235.0,450.9 239.0,457.3 243.0,462.3 247.0,467.3 251.0,467.3 255.0,467.3 259.0,466.6 263.0,465.9 267.0,466.3 271.0,466.6 275.0,466.3 279.0,460.9 283.0,447.3 287.0,430.9 291.0,421.6 295.0,423.7 299.0,433.7 303.0,446.6 307.0,458.0 311.0,464.4 315.0,459.4 319.0,445.1 323.0,433.0 327.0,430.6 331.0,437.3 335.0,445.1 339.0,451.6 343.0,458.0 347.0,462.3 351.0,462.3 355.0,456.6 359.0,450.1 363.0,442.3 367.0,428.0 371.0,416.6 375.0,415.1 379.0,420.1 383.0,430.9 387.0,439.4 391.0,443.7 395.0,444.9 399.0,443.0 403.0,441.6 407.0,439.4 411.0,435.9 415.0,428.0 419.0,419.4 423.0,416.6 427.0,420.1 431.0,425.1 435.0,428.7 439.0,435.1 443.0,443.7 447.0,456.6 451.0,463.7 455.0,468.0 459.0,468.7 463.0,468.7 467.0,469.4 471.0,469.4 475.0,470.1 479.0,468.7 483.0,467.0 487.0,459.4 491.0,446.6 495.0,426.6 499.0,412.3 503.0,415.1 507.0,423.7 511.0,432.3 515.0,440.9 519.0,449.4 523.0,457.3 527.0,460.9 531.0,457.3 535.0,450.1 539.0,440.9 543.0,428.7 547.0,419.4 551.0,420.1 555.0,431.6 559.0,443.7 563.0,455.9 567.0,463.0 571.0,468.0 575.0,471.6 579.0,471.9 583.0,471.6 587.0,471.6 591.0,469.4 595.0,468.0 599.0,466.6 603.0,468.7 607.0,469.4 611.0,465.9 615.0,459.4" fill="none" stroke="#ff0000" stroke-width="1" stroke-dasharray="3,3" shape-rendering="crispEdges"/>
<polyline points="3.0,452.3 7.0,463.7 11.0,470.1 15.0,460.9 19.0,449.4 23.0,441.1 27.0,443.7 31.0,456.6 35.0,465.1 39.0,463.0 43.0,440.9 47.0,416.6 51.0,415.4 55.0,429.4 59.0,448.0 63.0,466.6 67.0,471.1 71.0,460.9 75.0,459.1 79.0,457.3 83.0,463.0 87.0,460.1 91.0,458.7 95.0,462.0 99.0,463.2 103.0,461.6 107.0,459.4 111.0,463.0 115.0,460.9 119.0,453.0 123.0,439.4 127.0,430.9 131.0,417.3 135.0,421.6 139.0,430.9 143.0,441.3 147.0,436.6 151.0,417.3 155.0,436.6 159.0,455.1 163.0,463.7 167.0,466.9 171.0,468.3 175.0,463.7 179.0,449.4 183.0,429.4 187.0,418.7 191.0,417.3 195.0,423.0 199.0,420.6 203.0,422.3 207.0,416.6 211.0,415.4 215.0,416.6 219.0,425.1 223.0,435.1 227.0,446.6 231.0,450.9 235.0,453.7 239.0,466.3 243.0,466.3 247.0,468.0 251.0,466.3 255.0,466.3 259.0,465.9 263.0,464.0 267.0,466.3 271.0,467.3 275.0,467.3 279.0,448.0 283.0,428.0 287.0,415.9 291.0,421.6 295.0,431.6 299.0,448.0 303.0,463.7 307.0,468.7 311.0,458.0 315.0,440.9 319.0,424.4 323.0,427.3 327.0,439.4 331.0,447.3 335.0,448.7 339.0,456.6 343.0,465.9 347.0,462.3 351.0,455.1 355.0,449.4 359.0,443.7 363.0,430.9 367.0,408.7 371.0,409.4 375.0,418.0 379.0,430.9 383.0,440.9 387.0,450.9 391.0,443.7 395.0,444.4 399.0,438.7 403.0,443.0 407.0,438.0 411.0,426.6 415.0,418.0 419.0,410.6 423.0,419.4 427.0,430.1 431.0,428.3 435.0,428.3 439.0,445.1 443.0,458.0 447.0,465.9 451.0,467.3 455.0,470.1 459.0,468.3 463.0,468.7 467.0,470.1 471.0,470.1 475.0,470.1 479.0,468.0 483.0,458.0 487.0,443.7 491.0,416.6 495.0,404.4 499.0,414.4 503.0,423.7 507.0,434.4 511.0,442.3 515.0,451.6 519.0,459.4 523.0,463.4 527.0,458.0 531.0,450.1 535.0,442.3 539.0,426.6 543.0,415.9 547.0,415.9 551.0,423.7 555.0,440.9 559.0,458.0 563.0,467.3 567.0,467.3 571.0,473.0 575.0,473.0 579.0,470.9 583.0,470.1 587.0,472.3 591.0,466.6 595.0,467.3 599.0,466.3 603.0,473.0 607.0,468.7 611.0,455.1 615.0,441.1" fill="none" stroke="#20b2aa" stroke-width="1" shape-rendering="crispEdges"/>
<rect x="3" y="485" width="1" height="2" fill="#0000ff"/>
<rect x="7" y="485" width="1" height="1" fill="#0000ff"/>
<rect x="11" y="485" width="1" height="1" fill="#0000ff"/>
<rect x="15" y="485" width="1" height="1" fill="#0000ff"/>
<rect x="19" y="485" width="1" height="1" fill="#0000ff"/>
<rect x="23" y="485" width="1" height="1" fill="#0000ff"/>
<rect x="27" y="485" width="1" height="1" fill="#0000ff"/>
<rect x="31" y="485" width="1" height="1" fill="#0000ff"/>
<rect x="35" y="485" width="1" height="1" fill="#0000ff"/>
<rect x="39" y="485" width="1" height="1" fill="#0000ff"/>
<rect x="43" y="485" width="1" height="1" fill="#0000ff"/>
<rect x="47" y="485" width="1" height="1" fill="#0000ff"/>
<rect x="51" y="485" width="1" height="1" fill="#0000ff"/>
<rect x="55" y="485" width="1" height="1" fill="#0000ff"/>
<rect x="59" y="485" width="1" height="1" fill="#0000ff"/>
<rect x="63" y="485" width="1" height="1" fill="#0000ff"/>
<rect x="67" y="485" width="1" height="1" fill="#0000ff"/>
<rect x="71" y="485" width="1" height="2" fill="#0000ff"/>
<rect x="75" y="485" width="1" height="2" fill="#0000ff"/>
<rect x="79" y="485" width="1" height="2" fill="#0000ff"/>
<rect x="83" y="485" width="1" height="3" fill="#0000ff"/>
<rect x="87" y="485" width="1" height="3" fill="#0000ff"/>
<rect x="91" y="485" width="1" height="3" fill="#0000ff"/>
<rect x="95" y="485" width="1" height="3" fill="#0000ff"/>
<rect x="99" y="485" width="1" height="4" fill="#0000ff"/>
<rect x="103" y="485" width="1" height="4" fill="#0000ff"/>
<rect x="107" y="485" width="1" height="4" fill="#0000ff"/>
<rect x="111" y="485" width="1" height="4" fill="#0000ff"/>
<rect x="115" y="485" width="1" height="5" fill="#0000ff"/>
<rect x="119" y="485" width="1" height="5" fill="#0000ff"/>
<rect x="123" y="485" width="1" height="5" fill="#0000ff"/>
<rect x="127" y="485" width="1" height="5" fill="#0000ff"/>
<rect x="131" y="485" width="1" height="6" fill="#0000ff"/>
<rect x="135" y="485" width="1" height="6" fill="#0000ff"/>
<rect x="139" y="485" width="1" height="6" fill="#0000ff"/>
<rect x="143" y="485" width="1" height="6" fill="#0000ff"/>
<rect x="147" y="485" width="1" height="6" fill="#0000ff"/>
<rect x="151" y="485" width="1" height="6" fill="#0000ff"/>
<rect x="155" y="485" width="1" height="7" fill="#0000ff"/>
<rect x="159" y="485" width="1" height="7" fill="#0000ff"/>
<rect x="163" y="485" width="1" height="7" fill="#0000ff"/>
<rect x="167" y="485" width="1" height="7" fill="#0000ff"/>
<rect x="171" y="485" width="1" height="7" fill="#0000ff"/>
<rect x="175" y="485" width="1" height="7" fill="#0000ff"/>
<rect x="179" y="485" width="1" height="7" fill="#0000ff"/>
<rect x="183" y="485" width="1" height="7" fill="#0000ff"/>
<rect x="187" y="485" width="1" height="7" fill="#0000ff"/>
<rect x="191" y="485" width="1" height="7" fill="#0000ff"/>
<rect x="195" y="485" width="1" height="7" fill="#0000ff"/>
<rect x="199" y="485" width="1" height="7" fill="#0000ff"/>
<rect x="203" y="485" width="1" height="6" fill="#0000ff"/>
<rect x="207" y="485" width="1" height="5" fill="#0000ff"/>
<rect x="211" y="485" width="1" height="5" fill="#0000ff"/>
<rect x="215" y="485" width="1" height="4" fill="#0000ff"/>
<rect x="219" y="485" width="1" height="3" fill="#0000ff"/>
<rect x="223" y="485" width="1" height="3" fill="#0000ff"/>
<rect x="227" y="485" width="1" height="3" fill="#0000ff"/>
<rect x="231" y="485" width="1" height="3" fill="#0000ff"/>
<rect x="235" y="485" width="1" height="3" fill="#0000ff"/>
<rect x="239" y="485" width="1" height="4" fill="#0000ff"/>
<rect x="243" y="485" width="1" height="6" fill="#0000ff"/>
<rect x="247" y="485" width="1" height="9" fill="#0000ff"/>
<rect x="251" y="485" width="1" height="11" fill="#0000ff"/>
<rect x="255" y="485" width="1" height="12" fill="#0000ff"/>
<rect x="259" y="485" width="1" height="15" fill="#0000ff"/>
<rect x="263" y="485" width="1" height="16" fill="#0000ff"/>
<rect x="267" y="485" width="1" height="18" fill="#0000ff"/>
<rect x="271" y="485" width="1" height="20" fill="#0000ff"/>
<rect x="275" y="485" width="1" height="21" fill="#0000ff"/>
<rect x="279" y="485" width="1" height="20" fill="#0000ff"/>
<rect x="283" y="485" width="1" height="19" fill="#0000ff"/>
<rect x="287" y="485" width="1" height="18" fill="#0000ff"/>
<rect x="291" y="485" width="1" height="17" fill="#0000ff"/>
<rect x="295" y="485" width="1" height="17" fill="#0000ff"/>
<rect x="299" y="485" width="1" height="17" fill="#0000ff"/>
<rect x="303" y="485" width="1" height="18" fill="#0000ff"/>
<rect x="307" y="485" width="1" height="18" fill="#0000ff"/>
<rect x="311" y="485" width="1" height="17" fill="#0000ff"/>
<rect x="315" y="485" width="1" height="16" fill="#0000ff"/>
<rect x="319" y="485" width="1" height="15" fill="#0000ff"/>
<rect x="323" y="485" width="1" height="15" fill="#0000ff"/>
<rect x="327" y="485" width="1" height="14" fill="#0000ff"/>
<rect x="331" y="485" width="1" height="13" fill="#0000ff"/>
<rect x="335" y="485" width="1" height="13" fill="#0000ff"/>
<rect x="339" y="485" width="1" height="14" fill="#0000ff"/>
<rect x="343" y="485" width="1" height="15" fill="#0000ff"/>
<rect x="347" y="485" width="1" height="15" fill="#0000ff"/>
<rect x="351" y="485" width="1" height="16" fill="#0000ff"/>
<rect x="355" y="485" width="1" height="16" fill="#0000ff"/>
<rect x="359" y="485" width="1" height="15" fill="#0000ff"/>
<rect x="363" y="485" width="1" height="15" fill="#0000ff"/>
<rect x="367" y="485" width="1" height="13" fill="#0000ff"/>
<rect x="371" y="485" width="1" height="11" fill="#0000ff"/>
<rect x="375" y="485" width="1" height="10" fill="#0000ff"/>
<rect x="379" y="485" width="1" height="9" fill="#0000ff"/>
<rect x="383" y="485" width="1" height="9" fill="#0000ff"/>
<rect x="387" y="485" width="1" height="8" fill="#0000ff"/>
<rect x="391" y="485" width="1" height="7" fill="#0000ff"/>
<rect x="395" y="485" width="1" height="6" fill="#0000ff"/>
<rect x="399" y="485" width="1" height="6" fill="#0000ff"/>
<rect x="403" y="485" width="1" height="5" fill="#0000ff"/>
<rect x="407" y="485" width="1" height="4" fill="#0000ff"/>
<rect x="411" y="485" width="1" height="3" fill="#0000ff"/>
<rect x="415" y="485" width="1" height="2" fill="#0000ff"/>
<rect x="419" y="485" width="1" height="1" fill="#0000ff"/>
<rect x="439" y="485" width="1" height="2" fill="#0000ff"/>
<rect x="443" y="485" width="1" height="5" fill="#0000ff"/>
<rect x="447" y="485" width="1" height="7" fill="#0000ff"/>
<rect x="451" y="485" width="1" height="9" fill="#0000ff"/>
<rect x="455" y="485" width="1" height="14" fill="#0000ff"/>
<rect x="459" y="485" width="1" height="17" fill="#0000ff"/>
<rect x="463" y="485" width="1" height="20" fill="#0000ff"/>
<rect x="467" y="485" width="1" height="23" fill="#0000ff"/>
<rect x="471" y="485" width="1" height="25" fill="#0000ff"/>
<rect x="475" y="485" width="1" height="26" fill="#0000ff"/>
<rect x="479" y="485" width="1" height="27" fill="#0000ff"/>
<rect x="483" y="485" width="1" height="27" fill="#0000ff"/>
<rect x="487" y="485" width="1" height="26" fill="#0000ff"/>
<rect x="491" y="485" width="1" height="25" fill="#0000ff"/>
<rect x="495" y="485" width="1" height="24" fill="#0000ff"/>
<rect x="499" y="485" width="1" height="21" fill="#0000ff"/>
<rect x="503" y="485" width="1" height="19" fill="#0000ff"/>
<rect x="507" y="485" width="1" height="18" fill="#0000ff"/>
<rect x="511" y="485" width="1" height="17" fill="#0000ff"/>
<rect x="515" y="485" width="1" height="15" fill="#0000ff"/>
<rect x="519" y="485" width="1" height="15" fill="#0000ff"/>
<rect x="523" y="485" width="1" height="15" fill="#0000ff"/>
<rect x="527" y="485" width="1" height="14" fill="#0000ff"/>
<rect x="531" y="485" width="1" height="14" fill="#0000ff"/>
<rect x="535" y="485" width="1" height="13" fill="#0000ff"/>
<rect x="539" y="485" width="1" height="12" fill="#0000ff"/>
<rect x="543" y="485" width="1" height="11" fill="#0000ff"/>
<rect x="547" y="485" width="1" height="11" fill="#0000ff"/>
<rect x="551" y="485" width="1" height="10" fill="#0000ff"/>
<rect x="555" y="485" width="1" height="10" fill="#0000ff"/>
<rect x="559" y="485" width="1" height="9" fill="#0000ff"/>
<rect x="563" y="485" width="1" height="9" fill="#0000ff"/>
<rect x="567" y="485" width="1" height="9" fill="#0000ff"/>
<rect x="571" y="485" width="1" height="11" fill="#0000ff"/>
<rect x="575" y="485" width="1" height="14" fill="#0000ff"/>
<rect x="579" y="485" width="1" height="16" fill="#0000ff"/>
<rect x="583" y="485" width="1" height="19" fill="#0000ff"/>
<rect x="587" y="485" width="1" height="23" fill="#0000ff"/>
<rect x="591" y="485" width="1" height="27" fill="#0000ff"/>
<rect x="595" y="485" width="1" height="33" fill="#0000ff"/>
<rect x="599" y="485" width="1" height="38" fill="#0000ff"/>
<rect x="603" y="485" width="1" height="42" fill="#0000ff"/>
<rect x="607" y="485" width="1" height="48" fill="#0000ff"/>
<rect x="611" y="485" width="1" height="49" fill="#0000ff"/>
<rect x="615" y="485" width="1" height="48" fill="#0000ff"/>
<polyline points="3.0,483.5 30.0,483.5 35.0,484.5 60.0,484.5 63.0,485.5 80.0,485.5 95.0,486.5 105.0,487.5 125.0,489.0 150.0,490.0 190.0,490.9 196.0,491.2 210.0,490.9 220.0,490.3 225.0,489.1 235.0,488.6 245.0,488.3 250.0,489.1 256.0,490.3 262.0,492.6 268.0,494.8 274.0,497.7 280.0,500.3 286.0,502.0 292.0,502.3 300.0,502.3 310.0,501.7 316.0,501.1 325.0,500.3 335.0,499.4 365.0,499.4 370.0,498.6 376.0,498.2 382.0,497.2 388.0,496.0 394.0,494.3 400.0,493.4 406.0,491.4 412.0,490.3 418.0,489.7 424.0,488.3 430.0,487.4 437.0,486.2 443.0,486.6 449.0,487.4 455.0,489.1 461.0,491.7 467.0,494.8 473.0,498.6 479.0,502.3 485.0,505.4 491.0,508.5 497.0,509.4 503.0,508.9 509.0,508.5 515.0,505.4 521.0,503.7 527.0,502.3 533.0,500.6 539.0,499.4 545.0,498.2 550.0,496.9 560.0,496.0 567.0,494.8 575.0,494.3 580.0,495.1 586.0,496.5 592.0,499.4 598.0,503.7 604.0,509.7 610.0,515.7 613.0,518.5" fill="none" stroke="#ff0000" stroke-width="1" stroke-dasharray="3,3" shape-rendering="crispEdges"/>
<rect x="643" y="17" width="3" height="1" fill="#000"/>
<text x="650" y="22" fill="#000" font-size="12" textLength="38" lengthAdjust="spacingAndGlyphs" text-anchor="start">20.110</text>
<rect x="643" y="66" width="3" height="1" fill="#000"/>
<text x="650" y="71" fill="#000" font-size="12" textLength="38" lengthAdjust="spacingAndGlyphs" text-anchor="start">18.430</text>
<rect x="643" y="115" width="3" height="1" fill="#000"/>
<text x="650" y="120" fill="#000" font-size="12" textLength="38" lengthAdjust="spacingAndGlyphs" text-anchor="start">16.780</text>
<rect x="643" y="164" width="3" height="1" fill="#000"/>
<text x="650" y="169" fill="#000" font-size="12" textLength="38" lengthAdjust="spacingAndGlyphs" text-anchor="start">15.130</text>
<rect x="643" y="213" width="3" height="1" fill="#000"/>
<text x="650" y="218" fill="#000" font-size="12" textLength="38" lengthAdjust="spacingAndGlyphs" text-anchor="start">13.450</text>
<rect x="643" y="262" width="3" height="1" fill="#000"/>
<rect x="643" y="311" width="3" height="1" fill="#000"/>
<text x="650" y="316" fill="#000" font-size="12" textLength="38" lengthAdjust="spacingAndGlyphs" text-anchor="start">10.150</text>
<rect x="645" y="135" width="49" height="14" fill="#ff0000"/>
<text x="651" y="147" fill="#fff" font-size="12" textLength="37.5" lengthAdjust="spacingAndGlyphs" text-anchor="start">15.909</text>
<rect x="645" y="180" width="49" height="14" fill="#ff0000"/>
<text x="651" y="192" fill="#fff" font-size="12" textLength="37.5" lengthAdjust="spacingAndGlyphs" text-anchor="start">14.379</text>
<rect x="645" y="227" width="49" height="14" fill="#000000"/>
<text x="651" y="239" fill="#fff" font-size="12" textLength="37.5" lengthAdjust="spacingAndGlyphs" text-anchor="start">12.747</text>
<rect x="645" y="216" width="49" height="14" fill="#ff0000"/>
<text x="651" y="228" fill="#fff" font-size="12" textLength="37.5" lengthAdjust="spacingAndGlyphs" text-anchor="start">13.170</text>
<rect x="645" y="258" width="49" height="14" fill="#008000"/>
<text x="651" y="270" fill="#fff" font-size="12" textLength="37.5" lengthAdjust="spacingAndGlyphs" text-anchor="start">11.733</text>
<rect x="645" y="278" width="49" height="14" fill="#008000"/>
<text x="651" y="290" fill="#fff" font-size="12" textLength="37.5" lengthAdjust="spacingAndGlyphs" text-anchor="start">11.071</text>
<rect x="644" y="334" width="1" height="1" fill="#000"/>
<rect x="644" y="395" width="1" height="1" fill="#000"/>
<text x="647" y="346" fill="#000" font-size="12" textLength="20.5" lengthAdjust="spacingAndGlyphs" text-anchor="start">100</text>
<text x="647" y="357" fill="#000" font-size="12" textLength="13.5" lengthAdjust="spacingAndGlyphs" text-anchor="start">70</text>
<text x="647" y="369" fill="#000" font-size="12" textLength="13.5" lengthAdjust="spacingAndGlyphs" text-anchor="start">50</text>
<text x="647" y="382" fill="#000" font-size="12" textLength="13.5" lengthAdjust="spacingAndGlyphs" text-anchor="start">30</text>
<text x="647" y="393" fill="#000" font-size="12" textLength="6.5" lengthAdjust="spacingAndGlyphs" text-anchor="start">0</text>
<rect x="644" y="400" width="1" height="1" fill="#000"/>
<rect x="644" y="476" width="1" height="1" fill="#000"/>
<text x="647" y="412" fill="#000" font-size="12" textLength="20.5" lengthAdjust="spacingAndGlyphs" text-anchor="start">100</text>
<text x="647" y="420" fill="#000" font-size="12" textLength="13.5" lengthAdjust="spacingAndGlyphs" text-anchor="start">80</text>
<text x="647" y="443" fill="#000" font-size="12" textLength="13.5" lengthAdjust="spacingAndGlyphs" text-anchor="start">50</text>
<text x="647" y="466" fill="#000" font-size="12" textLength="13.5" lengthAdjust="spacingAndGlyphs" text-anchor="start">20</text>
<text x="647" y="474" fill="#000" font-size="12" textLength="6.5" lengthAdjust="spacingAndGlyphs" text-anchor="start">0</text>
<rect x="644" y="481" width="1" height="1" fill="#000"/>
<rect x="644" y="485" width="1" height="1" fill="#000"/>
<rect x="644" y="535" width="1" height="1" fill="#000"/>
<text x="647" y="490" fill="#000" font-size="12" textLength="24" lengthAdjust="spacingAndGlyphs" text-anchor="start">0.00</text>
<text x="647" y="493" fill="#000" font-size="12" textLength="31" lengthAdjust="spacingAndGlyphs" text-anchor="start">0.098</text>
<text x="647" y="533" fill="#000" font-size="12" textLength="42" lengthAdjust="spacingAndGlyphs" text-anchor="start">-0.6414</text>
<rect x="3" y="537" width="1" height="3" fill="#000"/>
<text x="2.5" y="552" fill="#000" font-size="12" textLength="68.5" lengthAdjust="spacingAndGlyphs" text-anchor="start">11 Mar 2020</text>
<rect x="99" y="537" width="1" height="3" fill="#000"/>
<text x="98.5" y="552" fill="#000" font-size="12" textLength="73.5" lengthAdjust="spacingAndGlyphs" text-anchor="start">11 Mar 20:00</text>
<rect x="195" y="537" width="1" height="3" fill="#000"/>
<text x="194.5" y="552" fill="#000" font-size="12" textLength="73.5" lengthAdjust="spacingAndGlyphs" text-anchor="start">12 Mar 09:00</text>
<rect x="291" y="537" width="1" height="3" fill="#000"/>
<text x="290.5" y="552" fill="#000" font-size="12" textLength="73.5" lengthAdjust="spacingAndGlyphs" text-anchor="start">12 Mar 21:00</text>
<rect x="387" y="537" width="1" height="3" fill="#000"/>
<text x="386.5" y="552" fill="#000" font-size="12" textLength="73.5" lengthAdjust="spacingAndGlyphs" text-anchor="start">13 Mar 10:00</text>
<rect x="483" y="537" width="1" height="3" fill="#000"/>
<text x="482.5" y="552" fill="#000" font-size="12" textLength="73.5" lengthAdjust="spacingAndGlyphs" text-anchor="start">13 Mar 22:00</text>
<rect x="579" y="537" width="1" height="3" fill="#000"/>
<text x="578.5" y="552" fill="#000" font-size="12" textLength="73.5" lengthAdjust="spacingAndGlyphs" text-anchor="start">16 Mar 11:00</text>
<path d="M6 10h9l-4.5 5z" fill="#000" shape-rendering="crispEdges"/>
<text x="20.5" y="17" fill="#000" font-size="12" textLength="73" lengthAdjust="spacingAndGlyphs" text-anchor="start">XAGUSD,M30</text>
<text x="102.5" y="17" fill="#000" font-size="12" textLength="37.5" lengthAdjust="spacingAndGlyphs" text-anchor="start">12.616</text>
<text x="146" y="17" fill="#000" font-size="12" textLength="37.5" lengthAdjust="spacingAndGlyphs" text-anchor="start">12.772</text>
<text x="189" y="17" fill="#000" font-size="12" textLength="37.5" lengthAdjust="spacingAndGlyphs" text-anchor="start">12.609</text>
<text x="232" y="17" fill="#000" font-size="12" textLength="37.5" lengthAdjust="spacingAndGlyphs" text-anchor="start">12.747</text>
<text x="6.5" y="348" fill="#000" font-size="12" textLength="43" lengthAdjust="spacingAndGlyphs" text-anchor="start">RSI(14)</text>
<text x="53.5" y="348" fill="#000" font-size="12" textLength="45" lengthAdjust="spacingAndGlyphs" text-anchor="start">28.1625</text>
<text x="107" y="348" fill="#000" font-size="12" textLength="47.5" lengthAdjust="spacingAndGlyphs" text-anchor="start">-&gt;MA(9)</text>
<text x="158.5" y="348" fill="#000" font-size="12" textLength="45.5" lengthAdjust="spacingAndGlyphs" text-anchor="start">17.8630</text>
<text x="6.5" y="414" fill="#000" font-size="12" textLength="71.5" lengthAdjust="spacingAndGlyphs" text-anchor="start">Stoch(5,3,3)</text>
<text x="82" y="414" fill="#000" font-size="12" textLength="47" lengthAdjust="spacingAndGlyphs" text-anchor="start">47.6617</text>
<text x="131.5" y="414" fill="#000" font-size="12" textLength="47" lengthAdjust="spacingAndGlyphs" text-anchor="start">28.1167</text>
<text x="6.5" y="495" fill="#000" font-size="12" textLength="85" lengthAdjust="spacingAndGlyphs" text-anchor="start">MACD(12,26,9)</text>
<text x="96" y="495" fill="#000" font-size="12" textLength="42" lengthAdjust="spacingAndGlyphs" text-anchor="start">-0.6010</text>
<text x="141" y="495" fill="#000" font-size="12" textLength="44.5" lengthAdjust="spacingAndGlyphs" text-anchor="start">-0.4485</text>
</svg>
</body></html>
